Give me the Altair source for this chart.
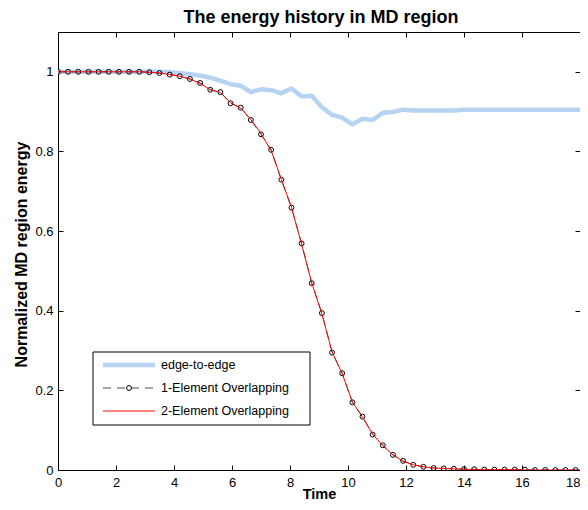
import altair as alt
import pandas as pd

# ---------------- data ----------------
time = [0, 0.35, 0.7, 1.05, 1.4, 1.75, 2.1, 2.45, 2.8, 3.15, 3.5, 3.85, 4.2,
        4.55, 4.9, 5.25, 5.6, 5.95, 6.3, 6.65, 7.0, 7.35, 7.7, 8.05, 8.4, 8.75,
        9.1, 9.45, 9.8, 10.15, 10.5, 10.85, 11.2, 11.55, 11.9, 12.25, 12.6,
        12.95, 13.3, 13.65, 14.0, 14.35, 14.7, 15.05, 15.4, 15.75, 16.1, 16.45,
        16.8, 17.15, 17.5, 17.85, 18.2]

edge_to_edge = [1.0, 1.0, 1.0, 1.0, 1.0, 1.0, 1.0, 1.0, 1.0, 1.0, 1.0, 0.999,
                0.997, 0.994, 0.991, 0.985, 0.978, 0.969, 0.965, 0.949, 0.956,
                0.954, 0.946, 0.958, 0.938, 0.940, 0.911, 0.892, 0.885, 0.868,
                0.882, 0.879, 0.897, 0.899, 0.905, 0.903, 0.903, 0.903, 0.903,
                0.903, 0.905, 0.905, 0.905, 0.905, 0.905, 0.905, 0.905, 0.905,
                0.905, 0.905, 0.905, 0.905, 0.905]

one_element = [1.0, 1.0, 1.0, 1.0, 1.0, 1.0, 1.0, 1.0, 1.0, 0.999, 0.997,
               0.993, 0.989, 0.982, 0.972, 0.955, 0.949, 0.921, 0.910, 0.879,
               0.843, 0.804, 0.729, 0.659, 0.569, 0.469, 0.394, 0.295, 0.243,
               0.170, 0.134, 0.089, 0.062, 0.038, 0.023, 0.013, 0.008, 0.005,
               0.004, 0.003, 0.002, 0.002, 0.001, 0.001, 0.001, 0.001, 0.001,
               0.0, 0.0, 0.0, 0.0, 0.0, 0.0]

two_element = [1.0, 1.0, 1.0, 1.0, 1.0, 1.0, 1.0, 1.0, 1.0, 0.999, 0.997,
               0.993, 0.989, 0.982, 0.971, 0.955, 0.948, 0.922, 0.909, 0.880,
               0.845, 0.802, 0.730, 0.660, 0.567, 0.470, 0.392, 0.297, 0.242,
               0.171, 0.133, 0.090, 0.061, 0.038, 0.022, 0.013, 0.008, 0.005,
               0.004, 0.003, 0.002, 0.001, 0.001, 0.001, 0.001, 0.001, 0.0,
               0.0, 0.0, 0.0, 0.0, 0.0, 0.0]

title_text = ["The energy history in MD region"]
legend_labels = ["edge-to-edge", "1-Element Overlapping", "2-Element Overlapping"]
x_ticks = [0, 2, 4, 6, 8, 10, 12, 14, 16, 18]
y_ticks = [0, 0.2, 0.4, 0.6, 0.8, 1.0]

# ---------------- styling ----------------
FONT = "Liberation Sans"
W, H = 522, 438
BLUE = "#b7d3f3"
DASH_GRAY = "#4a4a4a"

df = pd.DataFrame({"t": time, "e2e": edge_to_edge,
                   "one": one_element, "two": two_element})

xs = alt.Scale(domain=[0, 18], nice=False, zero=False)
ys = alt.Scale(domain=[0, 1.1], nice=False, zero=False)

common_tick = dict(offset=-5, tickSize=5, tickColor="black", tickWidth=1,
                   domain=False, grid=False)

x_bottom = alt.Axis(orient="bottom", values=x_ticks, format="~g",
                    labelFont=FONT, labelFontSize=13, labelColor="black",
                    labelBaseline="alphabetic", labelPadding=16,
                    labelAlign={"condition": {"test": "datum.value >= 18",
                                              "value": "right"},
                                "value": "center"},
                    labelFlush=False, labelOverlap=False, labelBound=False,
                    title="Time", titleFont=FONT, titleFontSize=14.5,
                    titleFontWeight="bold", titleColor="black",
                    titleBaseline="alphabetic", titleY=33.5, **common_tick)
x_top = alt.Axis(orient="top", values=x_ticks, labels=False, title=None,
                 **common_tick)
y_left = alt.Axis(orient="left", values=y_ticks, format="~g",
                  labelFont=FONT, labelFontSize=13, labelColor="black",
                  labelPadding=5, labelFlush=False, labelOverlap=False,
                  title="Normalized MD region energy", titleFont=FONT,
                  titleFontSize=16, titleFontWeight="bold",
                  titleColor="black", titleAngle=270,
                  titleBaseline="alphabetic", titleX=-37, titleY=222,
                  **common_tick)
y_right = alt.Axis(orient="right", values=y_ticks, labels=False, title=None,
                   **common_tick)

base = alt.Chart(df)

blue = base.mark_line(color=BLUE, strokeWidth=4.5, strokeJoin="round",
                      clip=True).encode(
    x=alt.X("t:Q", scale=xs, axis=x_top),
    y=alt.Y("e2e:Q", scale=ys, axis=y_right),
)
black_dash = base.mark_line(color=DASH_GRAY, strokeWidth=1,
                            strokeDash=[8, 6], clip=True).encode(
    x=alt.X("t:Q", scale=xs, axis=x_bottom),
    y=alt.Y("one:Q", scale=ys, axis=y_left),
)
circles = base.mark_point(shape="circle", filled=False, color="black",
                          size=24, strokeWidth=1, opacity=1,
                          clip=True).encode(
    x=alt.X("t:Q", scale=xs, axis=None),
    y=alt.Y("one:Q", scale=ys, axis=None),
)
red = base.mark_line(color="#ff0000", strokeWidth=1, clip=True).encode(
    x=alt.X("t:Q", scale=xs, axis=None),
    y=alt.Y("two:Q", scale=ys, axis=None),
)

# ---------------- title as a text mark above the frame ----------------
title_layer = alt.Chart(pd.DataFrame({"title": title_text})).mark_text(
    align="center", baseline="alphabetic", font=FONT, fontSize=18,
    fontWeight="bold", color="black").encode(
    text="title:N", x=alt.value(263), y=alt.value(-9))

# ---------------- hand-made legend box ----------------
one_row = pd.DataFrame({"d": [0]})
LX0, LX1, LY0, LY1 = 35, 252, 320, 393
ROWS = [333, 356, 379]
SX0, SX1, TX = 45, 97, 103

legend_layers = [
    alt.Chart(one_row).mark_rect(fill="white", stroke="black",
                                 strokeWidth=1).encode(
        x=alt.value(LX0), x2=alt.value(LX1),
        y=alt.value(LY0), y2=alt.value(LY1)),
    alt.Chart(one_row).mark_rule(color=BLUE, strokeWidth=4.5).encode(
        x=alt.value(SX0), x2=alt.value(SX1), y=alt.value(ROWS[0])),
    alt.Chart(one_row).mark_rule(color=DASH_GRAY, strokeWidth=1,
                                 strokeDash=[8, 6]).encode(
        x=alt.value(SX0), x2=alt.value(SX1), y=alt.value(ROWS[1])),
    alt.Chart(one_row).mark_point(shape="circle", filled=False, color="black",
                                  size=24, strokeWidth=1, opacity=1).encode(
        x=alt.value((SX0 + SX1) / 2), y=alt.value(ROWS[1])),
    alt.Chart(one_row).mark_rule(color="#ff0000", strokeWidth=1).encode(
        x=alt.value(SX0), x2=alt.value(SX1), y=alt.value(ROWS[2])),
]
for lab, ry in zip(legend_labels, ROWS):
    legend_layers.append(
        alt.Chart(pd.DataFrame({"label": [lab]})).mark_text(
            align="left", baseline="middle", font=FONT, fontSize=12.5,
            color="black").encode(
            text="label:N", x=alt.value(TX), y=alt.value(ry)))

chart = alt.layer(blue, black_dash, circles, red, title_layer,
                  *legend_layers).resolve_axis(
    x="independent", y="independent"
).properties(
    width=W,
    height=H,
    padding={"left": 50, "top": 24, "right": 0, "bottom": 32},
    autosize=alt.AutoSizeParams(type="none"),
).configure_view(stroke="black", strokeWidth=1)

chart.save("out.html", embed_options={"renderer": "svg", "actions": False})
